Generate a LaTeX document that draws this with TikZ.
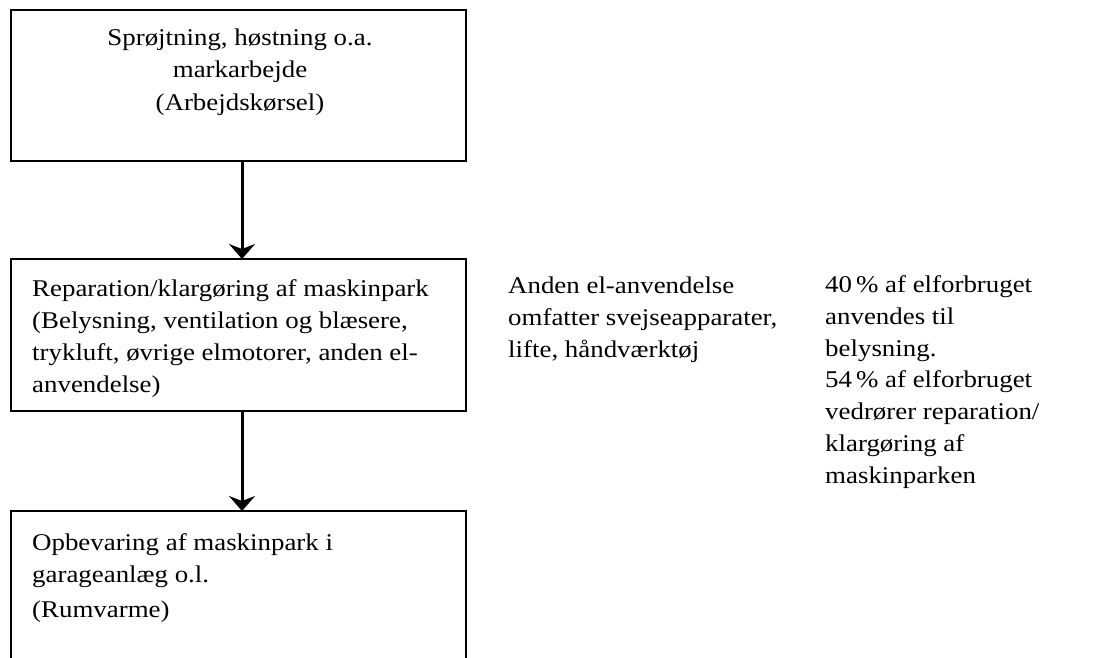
\documentclass[tikz,border=0pt]{standalone}
\usepackage{fontspec}
\setmainfont{Liberation Serif}[FakeStretch=1.12]
\usetikzlibrary{arrows.meta}
\begin{document}
\begin{tikzpicture}[x=1pt,y=-1pt,
  box/.style={draw,line width=1.6pt,minimum width=455pt,inner sep=0pt,outer sep=0pt},
  txt/.style={inner sep=0pt,font=\fontsize{24}{31.7}\selectfont},
  flow/.style={line width=3pt,-{Stealth[length=15pt,width=26pt,inset=5pt]}}]
  \useasboundingbox (0,0) rectangle (1099,657);
  \clip (0,0) rectangle (1099,657);
  % boxes
  \node[box,minimum height=151pt] (b1) at (238.5,85.5) {};
  \node[box,minimum height=152pt] (b2) at (238.5,335) {};
  \node[box,minimum height=200pt] (b3) at (238.5,611) {};
  % box texts (anchored on the baseline of the last line)
  \node[txt,align=center,anchor=base,font=\fontsize{24}{32.5}\selectfont] (t1) at (240,110)
    {Sprøjtning, høstning o.a.\\markarbejde\\(Arbejdskørsel)};
  \node[txt,align=left,anchor=base west] (t2) at (32,392)
    {Reparation/klargøring af maskinpark\\(Belysning, ventilation og blæsere,\\trykluft, øvrige elmotorer, anden el-\\anvendelse)};
  \node[txt,align=left,anchor=base west] (t3) at (32,617)
    {Opbevaring af maskinpark i\\garageanlæg o.l.\\[3pt](Rumvarme)};
  % side notes
  \node[txt,align=left,anchor=base west] (n1) at (508,357)
    {Anden el-anvendelse\\omfatter svejseapparater,\\lifte, håndværktøj};
  \node[txt,align=left,anchor=base west] (n2) at (825,483)
    {40\,\% af elforbruget\\anvendes til\\belysning.\\54\,\% af elforbruget\\vedrører reparation/\\klargøring af\\maskinparken};
  % connectors
  \draw[flow] (b1.south -| 242,0) -- (b2.north -| 242,0);
  \draw[flow] (b2.south -| 242,0) -- (b3.north -| 242,0);
\end{tikzpicture}
\end{document}
